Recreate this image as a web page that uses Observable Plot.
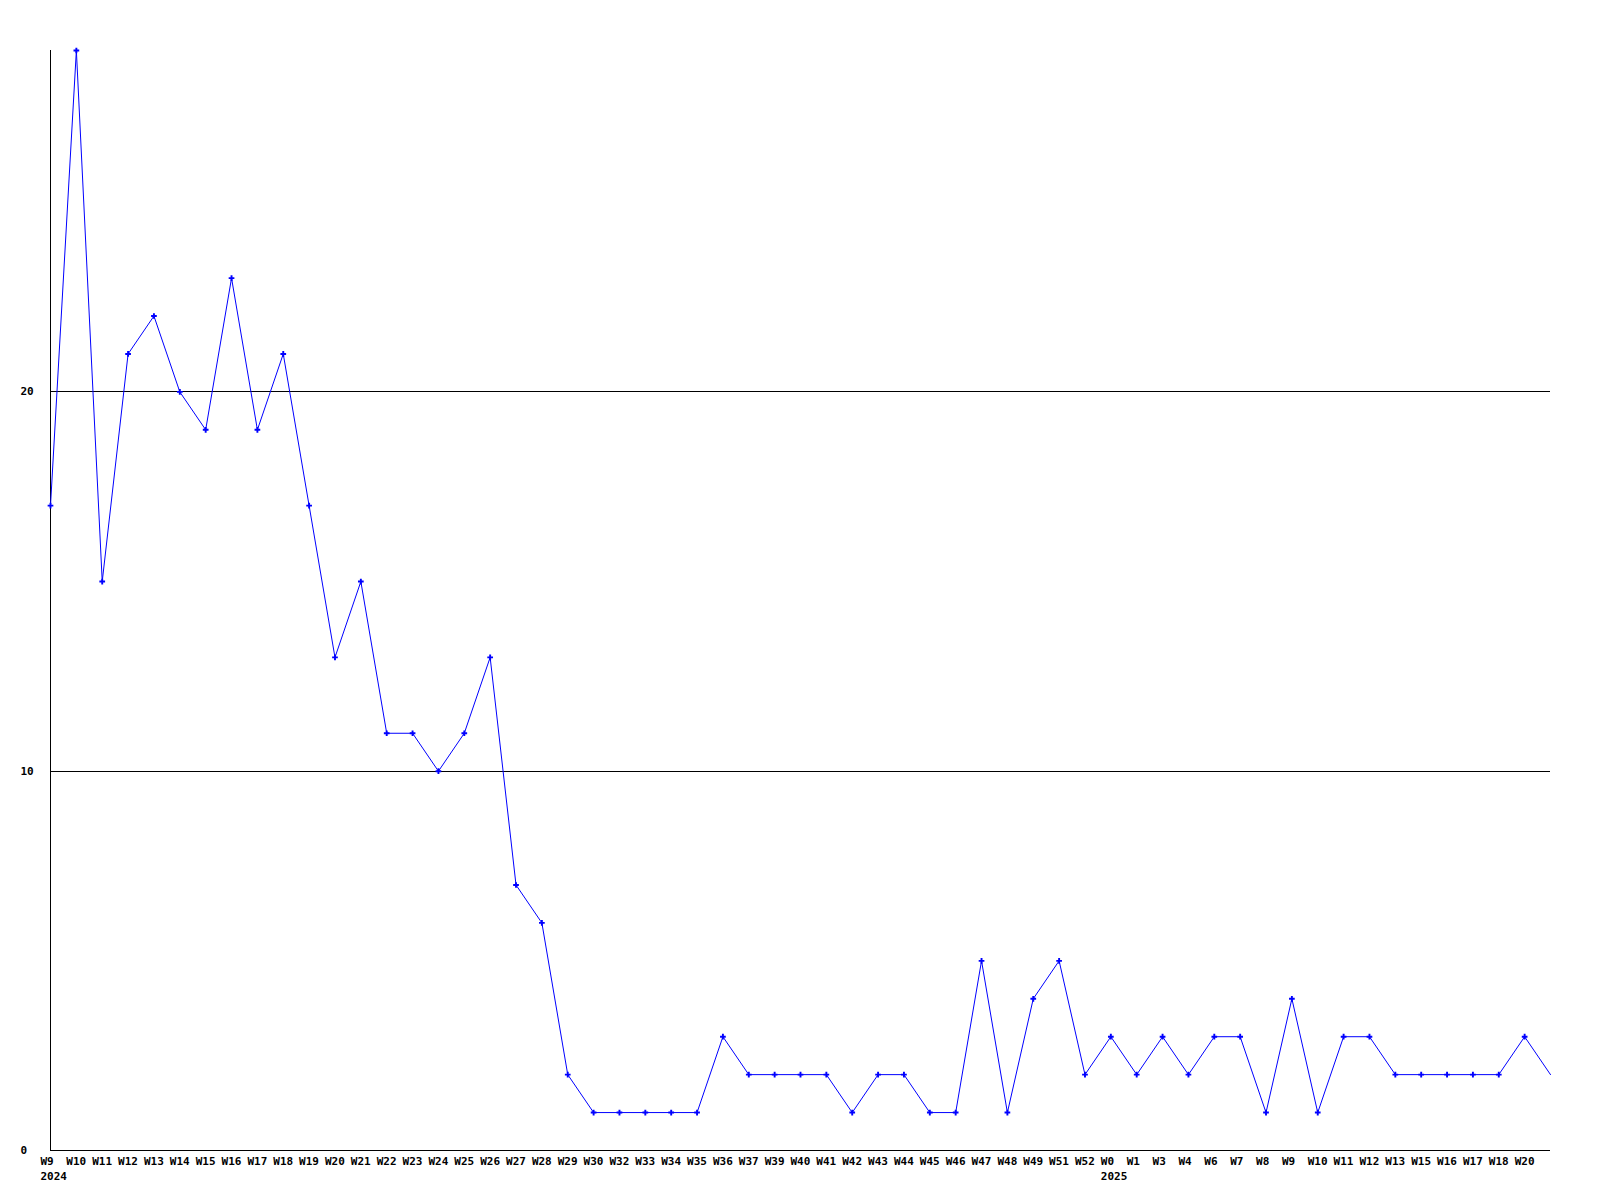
<!DOCTYPE html>
<html>
<head>
<meta charset="utf-8">
<script src="https://cdn.jsdelivr.net/npm/d3@7"></script>
<script src="https://cdn.jsdelivr.net/npm/@observablehq/plot@0.6"></script>
<style>
  html, body { margin: 0; padding: 0; background: #fff; }
</style>
</head>
<body>
<div id="chart"></div>
<script>
// Week tick labels (one per point; the last point has no label)
const weekLabels = ["W9","W10","W11","W12","W13","W14","W15","W16","W17","W18","W19","W20","W21","W22","W23","W24","W25","W26","W27","W28","W29","W30","W32","W33","W34","W35","W36","W37","W39","W40","W41","W42","W43","W44","W45","W46","W47","W48","W49","W51","W52","W0","W1","W3","W4","W6","W7","W8","W9","W10","W11","W12","W13","W15","W16","W17","W18","W20",""];
// Weekly counts
const counts = [17,29,15,21,22,20,19,23,19,21,17,13,15,11,11,10,11,13,7,6,2,1,1,1,1,1,3,2,2,2,2,1,2,2,1,1,5,1,4,5,2,3,2,3,2,3,3,1,4,1,3,3,2,2,2,2,2,3,2];
// Year labels and the index of the week they sit under
const yearLabels = ["2024","2025"];
const yearIndex = [0, 41];
const yTicks = [0, 10, 20];

const data = counts.map((v, i) => ({i, v, label: weekLabels[i]}));
const tickIdx = data.filter(d => d.label !== "").map(d => d.i);
const markerData = data.filter(d => d.label !== "");
const years = yearLabels.map((y, k) => ({i: yearIndex[k], y}));

const chart = Plot.plot({
  width: 1600,
  height: 1200,
  marginLeft: 50,
  marginRight: 50,
  marginTop: 50,
  marginBottom: 50,
  style: {fontFamily: "'DejaVu Sans Mono', monospace", fontSize: "11px", fontWeight: "bold", background: "#fff", color: "#000"},
  x: {type: "linear", domain: [0, counts.length - 1]},
  y: {domain: [0, 29]},
  marks: [
    Plot.ruleY([10, 20], {stroke: "#000", strokeWidth: 1, shapeRendering: "crispEdges"}),
    Plot.ruleY([0], {stroke: "#000", strokeWidth: 1, shapeRendering: "crispEdges"}),
    Plot.ruleX([0], {stroke: "#000", strokeWidth: 1, shapeRendering: "crispEdges"}),
    Plot.line(data, {x: "i", y: "v", stroke: "#0000ff", strokeWidth: 1}),
    Plot.dot(markerData, {x: "i", y: "v", symbol: "cross", fill: "#0000ff", r: 2.4}),
    Plot.axisY({ticks: yTicks, tickSize: 0, tickPadding: 30, textAnchor: "start", label: null, fill: "#000"}),
    Plot.axisX({ticks: tickIdx, tickFormat: i => weekLabels[i], tickSize: 0, tickPadding: 7, textAnchor: "start", dx: -10, label: null, fill: "#000"}),
    Plot.text(years, {x: "i", text: "y", frameAnchor: "bottom", lineAnchor: "top", textAnchor: "start", dx: -10, dy: 22, fill: "#000"})
  ]
});
document.getElementById("chart").appendChild(chart);
</script>
</body>
</html>
